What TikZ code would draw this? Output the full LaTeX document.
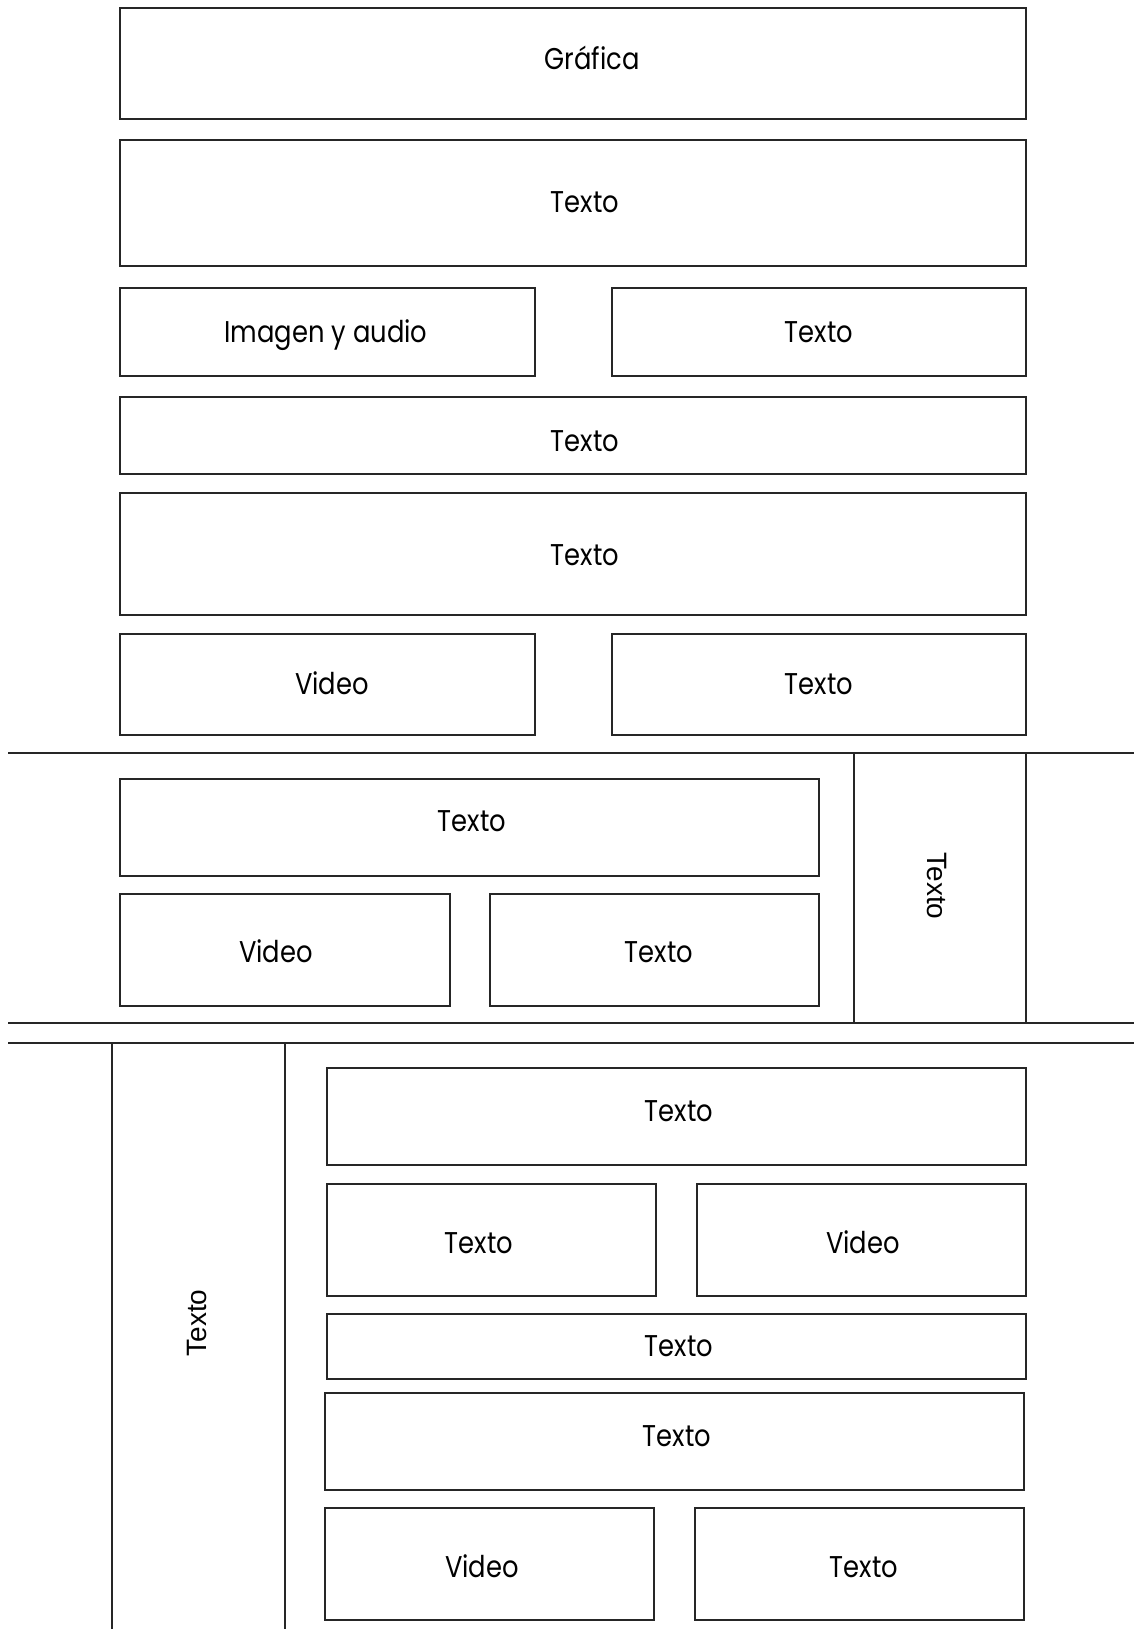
\documentclass[tikz,border=0pt]{standalone}
\usepackage{fontspec}
\newfontfamily\lblfont[FakeStretch=0.86]{Poppins}
\newfontfamily\arialfont{Liberation Sans}
\tikzset{
  wbox/.style={draw=black!85, line width=2pt, inner sep=0pt},
  wlabel/.style={inner sep=0pt, text height=21pt, text depth=0pt, font=\lblfont\fontsize{30}{36}\selectfont},
  sepline/.style={draw=black!85, line width=2pt},
  rottext/.style={font=\arialfont\fontsize{28}{34}\selectfont, inner sep=0pt}
}
% name, x1, y1, x2, y2, text, text x, text y
\newcommand{\wboxat}[8]{%
  \node[wbox, minimum width={(#4-#2)*1pt}, minimum height={(#5-#3)*1pt}] (#1) at ({(#2+#4)/2},{(#3+#5)/2}) {};
  \node[wlabel] (#1t) at (#7,#8) {#6};}
\begin{document}
\begin{tikzpicture}[x=1pt,y=-1pt]
\useasboundingbox[fill=white] (0,0) rectangle (1134,1629);
% top section
\wboxat{A}{120}{8}{1026}{119}{Gráfica}{592}{59}
\wboxat{B}{120}{140}{1026}{266}{Texto}{585}{202}
\wboxat{C}{120}{288}{535}{376}{Imagen y audio}{326}{332}
\wboxat{D}{612}{288}{1026}{376}{Texto}{819}{332}
\wboxat{E}{120}{397}{1026}{474}{Texto}{585}{441}
\wboxat{F}{120}{493}{1026}{615}{Texto}{585}{555}
\wboxat{G}{120}{634}{535}{735}{Video}{332}{684}
\wboxat{H}{612}{634}{1026}{735}{Texto}{819}{684}
% separator lines
\coordinate (l1a) at (8,753);   \coordinate (l1b) at (1134,753);
\coordinate (l2a) at (8,1023);  \coordinate (l2b) at (1134,1023);
\coordinate (l3a) at (8,1043);  \coordinate (l3b) at (1134,1043);
\draw[sepline] (l1a) -- (l1b);
\draw[sepline] (l2a) -- (l2b);
\draw[sepline] (l3a) -- (l3b);
% middle section
\wboxat{M1}{120}{779}{819}{876}{Texto}{472}{821}
\wboxat{M2}{120}{894}{450}{1006}{Video}{276}{952}
\wboxat{M3}{490}{894}{819}{1006}{Texto}{659}{952}
\node[wbox, minimum width=172pt, minimum height=270pt] (MV) at (940,888) {};
\node[rottext, rotate=-90] (MVt) at (937,886) {Texto};
% bottom section
\node[wbox, minimum width=173pt, minimum height=660pt] (BV) at (198.5,1373) {};
\node[rottext, rotate=90] (BVt) at (197,1323) {Texto};
\wboxat{B1}{327}{1068}{1026}{1165}{Texto}{679}{1111}
\wboxat{B2}{327}{1184}{656}{1296}{Texto}{479}{1243}
\wboxat{B3}{697}{1184}{1026}{1296}{Video}{863}{1243}
\wboxat{B4}{327}{1314}{1026}{1379}{Texto}{679}{1346}
\wboxat{B5}{325}{1393}{1024}{1490}{Texto}{677}{1436}
\wboxat{B6}{325}{1508}{654}{1620}{Video}{482}{1567}
\wboxat{B7}{695}{1508}{1024}{1620}{Texto}{864}{1567}
\end{tikzpicture}
\end{document}
